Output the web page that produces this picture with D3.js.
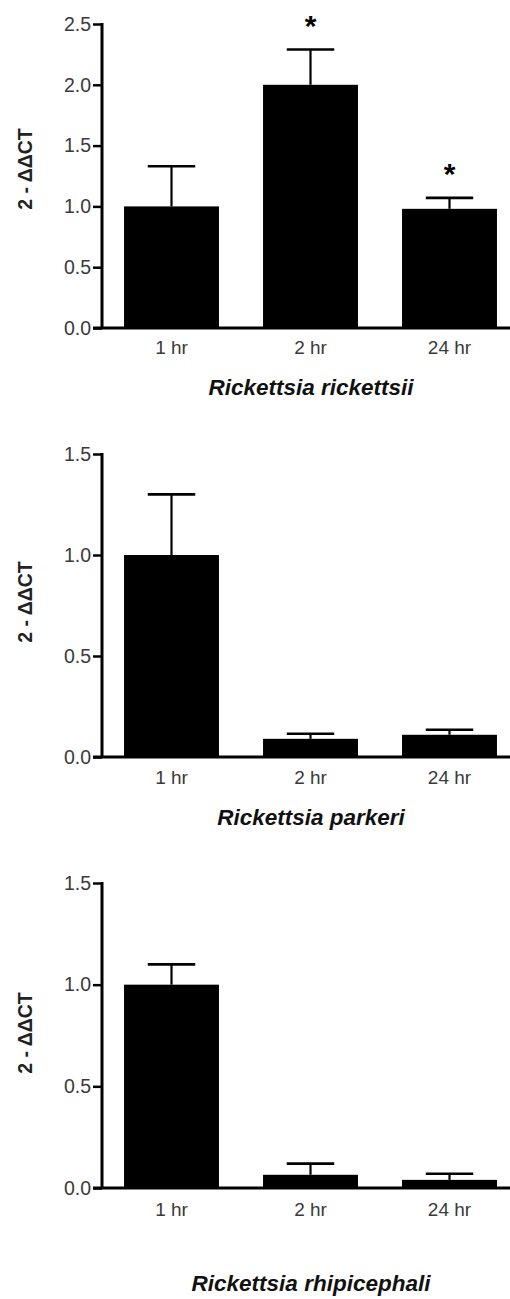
<!DOCTYPE html>
<html>
<head>
<meta charset="utf-8">
<script src="https://cdn.jsdelivr.net/npm/d3@7"></script>
<style>
  html, body { margin: 0; padding: 0; background: #fff; }
  svg { display: block; font-family: "Liberation Sans", Arial, sans-serif; }
</style>
</head>
<body>
<div id="chart"></div>
<script>
// ---- data ----
const categories = ["1 hr", "2 hr", "24 hr"];
const yLabel = "2 - ΔΔCT";

const titles = ["Rickettsia rickettsii", "Rickettsia parkeri", "Rickettsia rhipicephali"];

const rickettsiiMeans = [1.00, 2.00, 0.98];
const rickettsiiErrors = [0.33, 0.29, 0.09];
const rickettsiiStars = [false, true, true];
const rickettsiiTicks = [0.0, 0.5, 1.0, 1.5, 2.0, 2.5];

const parkeriMeans = [1.00, 0.09, 0.11];
const parkeriErrors = [0.30, 0.025, 0.025];
const parkeriStars = [false, false, false];
const parkeriTicks = [0.0, 0.5, 1.0, 1.5];

const rhipicephaliMeans = [1.00, 0.065, 0.04];
const rhipicephaliErrors = [0.10, 0.055, 0.03];
const rhipicephaliStars = [false, false, false];
const rhipicephaliTicks = [0.0, 0.5, 1.0, 1.5];

// ---- layout ----
const W = 510, H = 1299;
const xLeft = 102, xRight = 519;

const panels = [
  { means: rickettsiiMeans, errors: rickettsiiErrors, stars: rickettsiiStars, ticks: rickettsiiTicks,
    title: titles[0], yTop: 24, yBottom: 328, titleY: 395, labelY: 169, catY: 354 },
  { means: parkeriMeans, errors: parkeriErrors, stars: parkeriStars, ticks: parkeriTicks,
    title: titles[1], yTop: 454, yBottom: 757, titleY: 825, labelY: 602, catY: 784 },
  { means: rhipicephaliMeans, errors: rhipicephaliErrors, stars: rhipicephaliStars, ticks: rhipicephaliTicks,
    title: titles[2], yTop: 883, yBottom: 1188, titleY: 1291, labelY: 1033, catY: 1216 }
];

const svg = d3.select("#chart").append("svg")
  .attr("width", W).attr("height", H);

const x = d3.scaleBand()
  .domain(categories)
  .range([xLeft, xRight])
  .paddingInner(0.317)
  .paddingOuter(0.1585);

panels.forEach(p => {
  const yMax = d3.max(p.ticks);
  const y = d3.scaleLinear().domain([0, yMax]).range([p.yBottom, p.yTop]);
  const g = svg.append("g");

  const data = categories.map((c, i) => ({ cat: c, mean: p.means[i], err: p.errors[i], star: p.stars[i] }));

  // bars
  g.selectAll("rect.bar").data(data).enter().append("rect")
    .attr("class", "bar")
    .attr("x", d => x(d.cat))
    .attr("width", x.bandwidth())
    .attr("y", d => y(d.mean))
    .attr("height", d => y(0) - y(d.mean))
    .attr("fill", "#000");

  // error bars (upper only)
  const capHalf = x.bandwidth() * 0.25;
  g.selectAll("line.err").data(data).enter().append("line")
    .attr("x1", d => x(d.cat) + x.bandwidth() / 2)
    .attr("x2", d => x(d.cat) + x.bandwidth() / 2)
    .attr("y1", d => y(d.mean))
    .attr("y2", d => y(d.mean + d.err))
    .attr("stroke", "#000").attr("stroke-width", 2.2);
  g.selectAll("line.cap").data(data).enter().append("line")
    .attr("x1", d => x(d.cat) + x.bandwidth() / 2 - capHalf)
    .attr("x2", d => x(d.cat) + x.bandwidth() / 2 + capHalf)
    .attr("y1", d => y(d.mean + d.err))
    .attr("y2", d => y(d.mean + d.err))
    .attr("stroke", "#000").attr("stroke-width", 2.6);

  // stars
  g.selectAll("text.star").data(data.filter(d => d.star)).enter().append("text")
    .attr("x", d => x(d.cat) + x.bandwidth() / 2)
    .attr("y", d => y(d.mean + d.err) - 14)
    .attr("text-anchor", "middle")
    .attr("font-size", 30)
    .attr("font-weight", "bold")
    .attr("fill", "#000")
    .text("*");

  // y axis
  const yAxis = d3.axisLeft(y)
    .tickValues(p.ticks)
    .tickFormat(d3.format(".1f"))
    .tickSize(9)
    .tickPadding(2);
  const ya = g.append("g").attr("transform", `translate(${xLeft},0)`).call(yAxis);
  ya.select(".domain").attr("stroke", "#000").attr("stroke-width", 3)
    .attr("d", `M0,${p.yTop - 1}V${p.yBottom}`);
  ya.selectAll(".tick line").attr("stroke", "#000").attr("stroke-width", 2.5);
  ya.selectAll(".tick text")
    .attr("font-size", 19.5).attr("fill", "#3a3a3a")
    .attr("font-family", "'Liberation Sans', Arial, sans-serif");

  // x axis baseline
  const xAxis = d3.axisBottom(x).tickSize(0).tickPadding(0);
  const xa = g.append("g").attr("transform", `translate(0,${p.yBottom})`).call(xAxis);
  xa.select(".domain").attr("stroke", "#000").attr("stroke-width", 3)
    .attr("d", `M${xLeft - 9},0H${W}`);
  xa.selectAll(".tick text")
    .attr("y", p.catY - p.yBottom)
    .attr("dy", 0)
    .attr("font-size", 19).attr("fill", "#3a3a3a")
    .attr("font-family", "'Liberation Sans', Arial, sans-serif");

  // y label
  g.append("text")
    .attr("transform", `translate(32,${p.labelY}) rotate(-90)`)
    .attr("text-anchor", "middle")
    .attr("font-size", 19.5)
    .attr("font-weight", "bold")
    .attr("fill", "#222")
    .text(yLabel);

  // title
  g.append("text")
    .attr("x", 311)
    .attr("y", p.titleY)
    .attr("text-anchor", "middle")
    .attr("font-size", 22.5)
    .attr("font-weight", "bold")
    .attr("font-style", "italic")
    .attr("fill", "#111")
    .text(p.title);
});
</script>
</body>
</html>
